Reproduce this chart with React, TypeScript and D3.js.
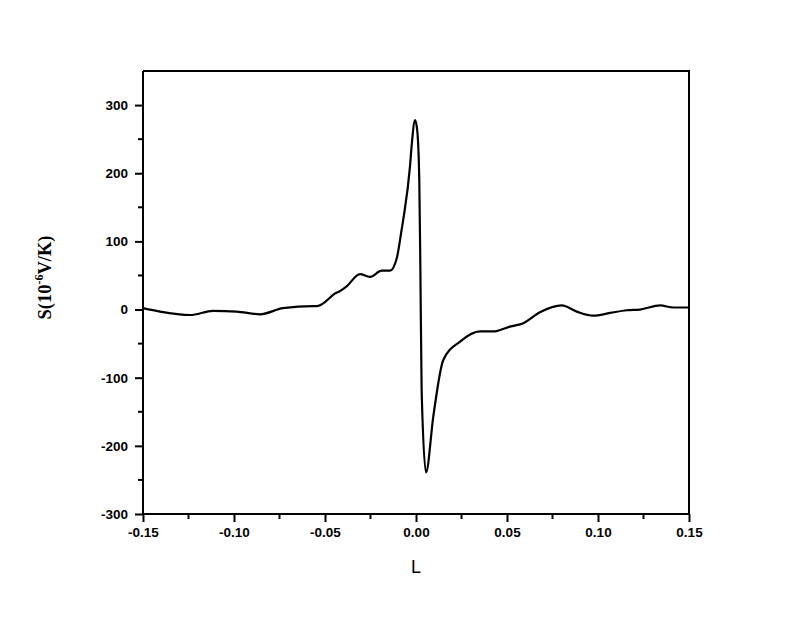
import React, { useRef, useEffect } from 'react';
import * as d3 from 'd3';

// L values and thermopower S (1e-6 V/K)
const lValues = [
  -0.150, -0.1407, -0.1242, -0.1115, -0.0985, -0.0857, -0.0731, -0.0566, -0.0546,
  -0.0491, -0.0454, -0.0418, -0.0381, -0.0308, -0.0253, -0.0188, -0.0143, -0.0106,
  -0.0079, -0.0070, -0.0033, -0.0024, -0.0005, 0.0007, 0.0018, 0.0024, 0.0031,
  0.0055, 0.0095, 0.0150, 0.0242, 0.0352, 0.0434, 0.0462, 0.0516, 0.0590, 0.0681,
  0.0801, 0.0883, 0.0974, 0.1066, 0.1158, 0.1231, 0.1341, 0.1414, 0.1497,
];
const sValues = [
  2, -3, -8, -2, -3, -7, 2, 5, 5,
  13, 22, 27, 34, 52, 48, 57, 57, 75,
  117, 132, 210, 240, 278, 262, 191, 60, -118,
  -239, -157, -74, -47, -32, -32, -30, -25, -20, -4,
  6, -3, -9, -5, -1, 0, 6, 3, 3,
];

const xTicks = [-0.15, -0.10, -0.05, 0.0, 0.05, 0.10, 0.15];
const xMinorTicks = [-0.125, -0.075, -0.025, 0.025, 0.075, 0.125];
const yTicks = [-300, -200, -100, 0, 100, 200, 300];
const yMinorTicks = [-250, -150, -50, 50, 150, 250];

const SeebeckChart = ({ width = 800, height = 617 }) => {
  const svgRef = useRef<SVGSVGElement>(null);

  useEffect(() => {
    const svg = d3.select(svgRef.current);
    svg.selectAll('*').remove();

    const left = 143, right = 689, top = 71, bottom = 514;

    const xScale = d3.scaleLinear().domain([-0.15, 0.15]).range([left, right]);
    const yScale = d3.scaleLinear().domain([-300, 350]).range([bottom, top]);

    const tickFont = '"Liberation Sans", Arial, sans-serif';
    // plain hyphen for negatives, like the original
    const fmtX = (d) => d3.format('.2f')(d).replace('\u2212', '-');
    const fmtY = (d) => d3.format('d')(d).replace('\u2212', '-');

    // frame (top and right)
    svg.append('path')
      .attr('d', `M${left},${top}H${right}V${bottom}`)
      .attr('fill', 'none')
      .attr('stroke', '#000')
      .attr('stroke-width', 2);

    // x axis
    const xAxis = svg.append('g').attr('transform', `translate(0, ${bottom})`);
    xAxis.call(
      d3.axisBottom(xScale)
        .tickValues(xTicks)
        .tickFormat(fmtX)
        .tickSize(8)
        .tickPadding(5)
    );
    xAxis.selectAll('.minor')
      .data(xMinorTicks)
      .enter()
      .append('line')
      .attr('class', 'minor')
      .attr('x1', (d) => xScale(d))
      .attr('x2', (d) => xScale(d))
      .attr('y1', 0)
      .attr('y2', 5)
      .attr('stroke', '#000')
      .attr('stroke-width', 2);

    // y axis
    const yAxis = svg.append('g').attr('transform', `translate(${left}, 0)`);
    yAxis.call(
      d3.axisLeft(yScale)
        .tickValues(yTicks)
        .tickFormat(fmtY)
        .tickSize(8)
        .tickPadding(7)
    );
    yAxis.selectAll('.minor')
      .data(yMinorTicks)
      .enter()
      .append('line')
      .attr('class', 'minor')
      .attr('x1', 0)
      .attr('x2', -5)
      .attr('y1', (d) => yScale(d))
      .attr('y2', (d) => yScale(d))
      .attr('stroke', '#000')
      .attr('stroke-width', 2);

    [xAxis, yAxis].forEach((g) => {
      g.select('.domain').attr('stroke-width', 2).attr('stroke', '#000');
      g.selectAll('.tick line').attr('stroke-width', 2).attr('stroke', '#000');
      g.selectAll('.tick text')
        .attr('font-family', tickFont)
        .attr('font-weight', 'bold')
        .attr('font-size', 13.5)
        .attr('fill', '#000');
    });
    yAxis.select('.domain').attr('d', `M0,${bottom}V${top}`);
    xAxis.select('.domain').attr('d', `M${left},0H${right}`);

    // curve
    const line = d3.line<number>()
      .x((d, i) => xScale(lValues[i]))
      .y((d) => yScale(d))
      .curve(d3.curveMonotoneX);

    svg.append('path')
      .datum(sValues)
      .attr('d', line)
      .attr('fill', 'none')
      .attr('stroke', '#000')
      .attr('stroke-width', 2.2)
      .attr('stroke-linejoin', 'round');

    // axis titles
    svg.append('text')
      .attr('x', xScale(0))
      .attr('y', 573)
      .attr('text-anchor', 'middle')
      .attr('font-family', tickFont)
      .attr('font-size', 18)
      .text('L');

    const yTitle = svg.append('text')
      .attr('transform', `translate(51, ${yScale(0) - 32}) rotate(-90)`)
      .attr('text-anchor', 'middle')
      .attr('font-family', '"Liberation Serif", "Times New Roman", serif')
      .attr('font-weight', 'bold')
      .attr('font-size', 18.5);
    yTitle.append('tspan').text('S(10');
    yTitle.append('tspan').attr('dy', -8).attr('font-size', 12).text('-6');
    yTitle.append('tspan').attr('dy', 8).text('V/K)');
  }, [width, height]);

  return (
    <svg
      ref={svgRef}
      width={width}
      height={height}
      style={{ position: 'absolute', left: 0, top: 0, background: '#fff' }}
    ></svg>
  );
};

export default function App() {
  return <SeebeckChart />;
}
